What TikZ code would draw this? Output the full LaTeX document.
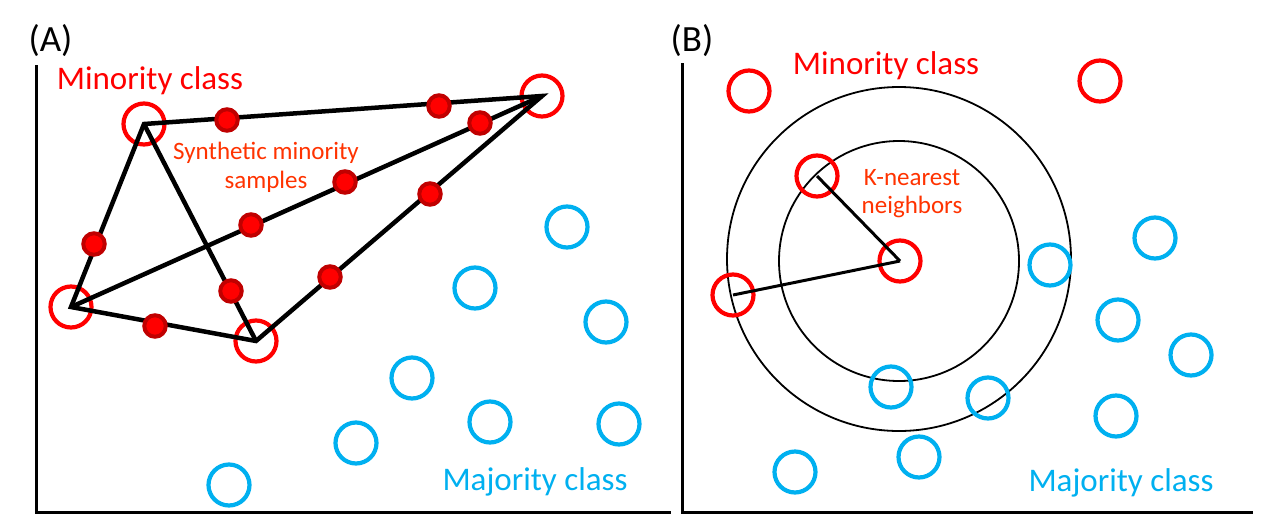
\documentclass[tikz,border=0pt]{standalone}
\usepackage{fontspec}
\setmainfont{Carlito}
\definecolor{minred}{RGB}{255,0,0}
\definecolor{synred}{RGB}{255,51,0}
\definecolor{majblue}{RGB}{0,176,240}
\definecolor{dotdark}{RGB}{192,0,0}
\begin{document}
\begin{tikzpicture}[x=1pt,y=-1pt,
  minpt/.style={circle,draw=minred,line width=4.2pt,minimum size=41pt,inner sep=0pt},
  majpt/.style={circle,draw=majblue,line width=4.2pt,minimum size=41pt,inner sep=0pt},
  synpt/.style={circle,draw=dotdark,fill=minred,line width=4pt,minimum size=21.5pt,inner sep=0pt},
  edgeA/.style={line width=4.5pt,line join=miter},
  edgeB/.style={line width=3pt},
  ring/.style={line width=1.8pt},
  axis/.style={line width=3pt},
  paneltag/.style={anchor=base,inner sep=0pt,font=\fontsize{37}{44}\selectfont},
  classlbl/.style={anchor=base,inner sep=0pt,font=\fontsize{33}{40}\selectfont},
  smalllbl/.style={anchor=base,inner sep=0pt,text=synred,font=\fontsize{25}{30}\selectfont}]
\useasboundingbox (0,0) rectangle (1263,520);
\fill[white] (0,0) rectangle (1263,520);
% ---------------- Panel A ----------------
\coordinate (Atop) at (36,65);
\coordinate (Aorig) at (36,512);
\coordinate (Aright) at (671,512);
\draw[axis] (Atop) -- (Aorig) -- (Aright);
\node[paneltag] (tagA) at (50.5,51) {(A)};
\node[classlbl,text=minred] (minA) at (150,89) {Minority class};
\node[classlbl,text=majblue] (majA) at (535,490) {Majority class};
\node[smalllbl] (synA1) at (266,159) {Synthetic minority};
\node[smalllbl] (synA2) at (266,188) {samples};
% minority samples
\node[minpt] (TL) at (144,124) {};
\node[minpt] (R) at (542,96) {};
\node[minpt] (L) at (71,307) {};
\node[minpt] (B) at (256,341) {};
% connecting lines
\draw[edgeA] (TL.center) -- (R.center) -- (B.center) -- (L.center) -- cycle;
\draw[edgeA] (L.center) -- (R.center);
\draw[edgeA] (TL.center) -- (B.center);
% synthetic samples
\node[synpt] (s1) at (227,120) {};
\node[synpt] (s2) at (439,106) {};
\node[synpt] (s3) at (480,123) {};
\node[synpt] (s4) at (345,182) {};
\node[synpt] (s5) at (251,225) {};
\node[synpt] (s6) at (430,194) {};
\node[synpt] (s7) at (330,277) {};
\node[synpt] (s8) at (94,244) {};
\node[synpt] (s9) at (231,291) {};
\node[synpt] (s10) at (155,326) {};
% majority samples
\node[majpt] (a1) at (567,227) {};
\node[majpt] (a2) at (475,288) {};
\node[majpt] (a3) at (606,322) {};
\node[majpt] (a4) at (412,378) {};
\node[majpt] (a5) at (490,422) {};
\node[majpt] (a6) at (619,424) {};
\node[majpt] (a7) at (356,443) {};
\node[majpt] (a8) at (229,485) {};
% ---------------- Panel B ----------------
\coordinate (Btop) at (682,63);
\coordinate (Borig) at (682,512);
\coordinate (Bright) at (1253,512);
\draw[axis] (Btop) -- (Borig) -- (Bright);
\node[paneltag] (tagB) at (692,51) {(B)};
\node[classlbl,text=minred] (minB) at (886,74) {Minority class};
\node[classlbl,text=majblue] (majB) at (1121,491) {Majority class};
\node[smalllbl] (knn1) at (912,185) {K-nearest};
\node[smalllbl] (knn2) at (912,213) {neighbors};
\coordinate (cc) at (900,261);
\draw[ring] (899,259) circle[radius=172pt];
\draw[ring] (899,261) circle[radius=120pt];
\node[minpt] (c) at (cc) {};
\node[minpt] (n1) at (817,176) {};
\node[minpt] (n2) at (733,295) {};
\node[minpt] (o1) at (749,91) {};
\node[minpt] (o2) at (1100,81) {};
\draw[edgeB] (c.center) -- (n1.center);
\draw[edgeB] (c.center) -- (n2.center);
\node[majpt] (b1) at (1050,265) {};
\node[majpt] (b2) at (1155,238) {};
\node[majpt] (b3) at (1118,320) {};
\node[majpt] (b4) at (1191,355) {};
\node[majpt] (b5) at (1116,416) {};
\node[majpt] (b6) at (891,387) {};
\node[majpt] (b7) at (988,398) {};
\node[majpt] (b8) at (919,457) {};
\node[majpt] (b9) at (795,472) {};
\end{tikzpicture}
\end{document}
